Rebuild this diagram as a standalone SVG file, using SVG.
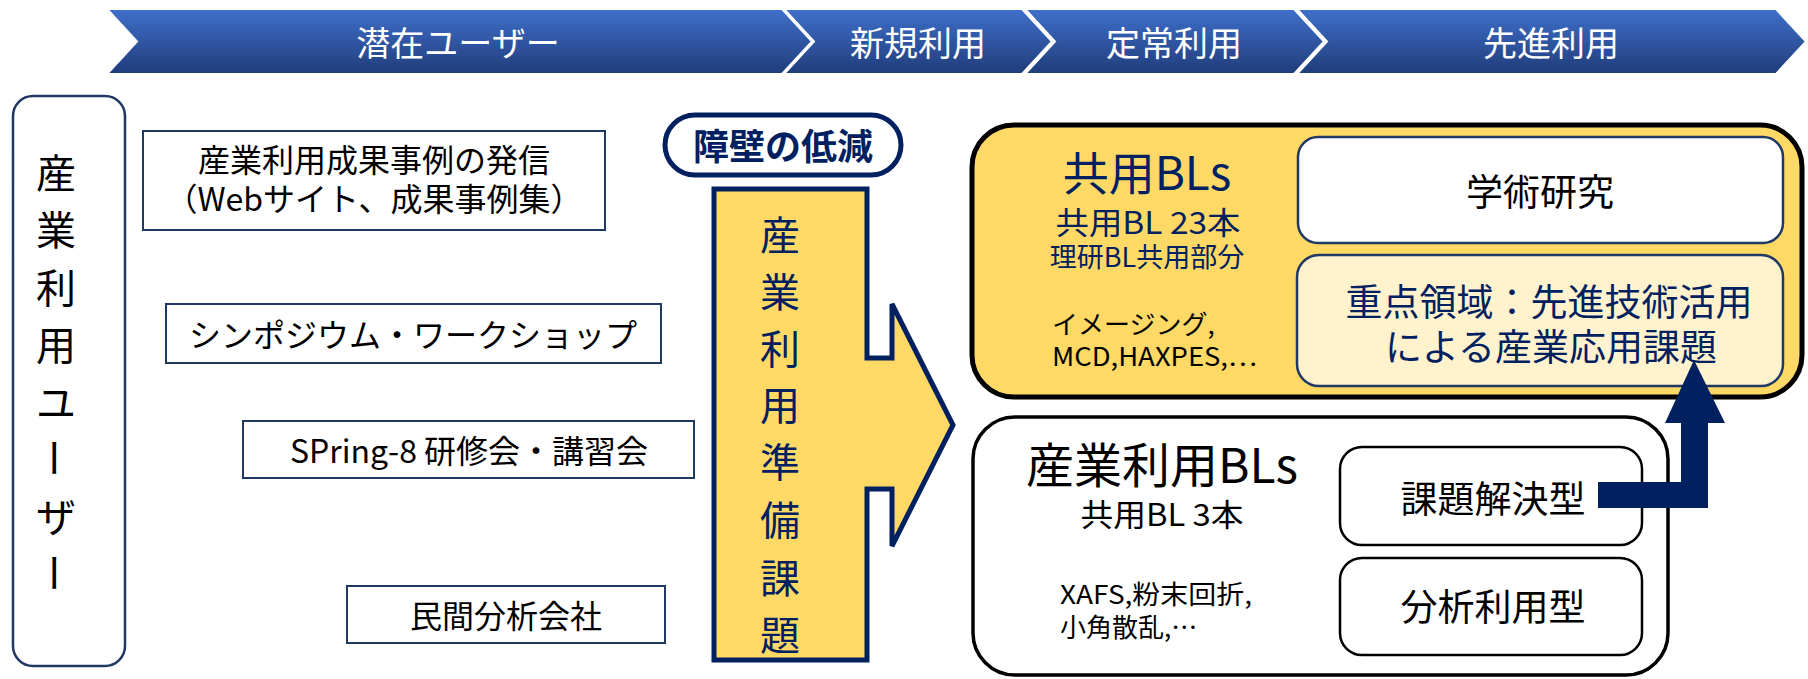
<svg xmlns="http://www.w3.org/2000/svg" width="1808" height="679" viewBox="0 0 1808 679">
<defs>
<linearGradient id="bannerGrad" x1="0" y1="0" x2="0" y2="1">
<stop offset="0" stop-color="#3F70CB"/>
<stop offset="1" stop-color="#203C7A"/>
</linearGradient>
<style>
text{font-family:"Noto Sans CJK JP","Noto Sans",sans-serif;text-anchor:middle;dominant-baseline:central}
.seg{fill:url(#bannerGrad);stroke:#ffffff;stroke-width:2}
.segt{fill:#ffffff;font-size:34px}
.lbox{fill:#ffffff;stroke:#1F3864;stroke-width:2}
.lt{fill:#000000;font-size:32px}
.navy{fill:#002060}
.blk{fill:#000000}
.st{text-anchor:start}
</style>
</defs>
<rect width="1808" height="679" fill="#ffffff"/>

<g id="banner">
<g id="seg-latent"><polygon class="seg" points="107,9 782,9 812,41.5 782,74 107,74 137,41.5"/><text class="segt" x="458" y="41.5">潜在ユーザー</text></g>
<g id="seg-new"><polygon class="seg" points="784,9 1022,9 1052,41.5 1022,74 784,74 814,41.5"/><text class="segt" x="918" y="41.5">新規利用</text></g>
<g id="seg-regular"><polygon class="seg" points="1025,9 1294,9 1324,41.5 1294,74 1025,74 1055,41.5"/><text class="segt" x="1174" y="41.5">定常利用</text></g>
<g id="seg-advanced"><polygon class="seg" points="1297,9 1776,9 1806,41.5 1776,74 1297,74 1327,41.5"/><text class="segt" x="1551" y="41.5">先進利用</text></g>
</g>

<g id="users">
<rect x="13" y="96" width="112" height="570" rx="20" fill="#ffffff" stroke="#1F3864" stroke-width="2.5"/>
<g fill="#000000">
<text x="56" y="171" font-size="40">産</text>
<text x="56" y="228" font-size="40">業</text>
<text x="56" y="286" font-size="40">利</text>
<text x="56" y="343" font-size="40">用</text>
<text x="56" y="401" font-size="40">ユ</text>
<text x="56" y="458" font-size="40" transform="rotate(90 56 458)">ー</text>
<text x="56" y="515" font-size="40">ザ</text>
<text x="56" y="573" font-size="40" transform="rotate(90 56 573)">ー</text>
</g>
</g>

<g id="box-results">
<rect class="lbox" x="143" y="131" width="462" height="99"/>
<text class="lt"><tspan x="374" y="158">産業利用成果事例の発信</tspan><tspan x="374" y="197">（Webサイト、成果事例集）</tspan></text>
</g>

<g id="box-symposium">
<rect class="lbox" x="166" y="304" width="495" height="59"/>
<text class="lt" x="413" y="333">シンポジウム・ワークショップ</text>
</g>

<g id="box-training">
<rect class="lbox" x="243" y="421" width="451" height="57"/>
<text class="lt" x="469" y="449">SPring-8 研修会・講習会</text>
</g>

<g id="box-analysis">
<rect class="lbox" x="347" y="586" width="318" height="57"/>
<text class="lt" x="506" y="614">民間分析会社</text>
</g>

<g id="pill-barrier">
<rect x="665" y="115" width="236" height="60" rx="30" fill="#ffffff" stroke="#002060" stroke-width="5"/>
<text x="783" y="144" font-size="36" font-weight="bold" fill="#002060">障壁の低減</text>
</g>

<g id="prep-arrow">
<path d="M714,189 H867 V358 H892 V304 L953,425 L892,546 V489 H867 V660 H714 Z" fill="#FFD966" stroke="#002060" stroke-width="5" stroke-linejoin="miter"/>
<g fill="#002060">
<text x="780" y="233" font-size="40">産</text>
<text x="780" y="290" font-size="40">業</text>
<text x="780" y="347" font-size="40">利</text>
<text x="780" y="403" font-size="40">用</text>
<text x="780" y="460" font-size="40">準</text>
<text x="780" y="518" font-size="40">備</text>
<text x="780" y="576" font-size="40">課</text>
<text x="780" y="633" font-size="40">題</text>
</g>
</g>

<g id="shared-bls">
<rect x="972" y="125" width="830" height="272" rx="42" fill="#FFD966" stroke="#000000" stroke-width="5"/>
<text class="navy"><tspan x="1147" y="170" font-size="46">共用BLs</tspan><tspan x="1148" y="220" font-size="31" textLength="185" lengthAdjust="spacingAndGlyphs">共用BL 23本</tspan><tspan x="1147" y="255" font-size="27">理研BL共用部分</tspan></text>
<text class="blk st" font-size="26"><tspan x="1052" y="322">イメージング,</tspan><tspan x="1052" y="354" textLength="205" lengthAdjust="spacingAndGlyphs">MCD,HAXPES,…</tspan></text>
</g>

<g id="box-academic">
<rect x="1298" y="137" width="485" height="106" rx="20" fill="#ffffff" stroke="#1F3864" stroke-width="2.5"/>
<text class="blk" x="1540" y="190" font-size="37">学術研究</text>
</g>

<g id="box-focus">
<rect x="1297" y="255" width="486" height="131" rx="22" fill="#FFF2CC" stroke="#1F3864" stroke-width="2.5"/>
<text class="navy" font-size="37"><tspan x="1549" y="300">重点領域：先進技術活用</tspan><tspan x="1551" y="345">による産業応用課題</tspan></text>
</g>

<g id="industrial-bls">
<rect x="973" y="417" width="695" height="258" rx="42" fill="#ffffff" stroke="#000000" stroke-width="3.5"/>
<text class="blk"><tspan x="1162" y="462" font-size="48">産業利用BLs</tspan><tspan x="1162" y="512" font-size="31" textLength="163" lengthAdjust="spacingAndGlyphs">共用BL 3本</tspan></text>
<text class="blk st" font-size="26"><tspan x="1060" y="592" textLength="192" lengthAdjust="spacingAndGlyphs">XAFS,粉末回折,</tspan><tspan x="1060" y="625">小角散乱,…</tspan></text>
</g>

<g id="box-solution">
<rect x="1340" y="447" width="302" height="98" rx="22" fill="#ffffff" stroke="#000000" stroke-width="2.5"/>
<text class="blk" x="1493" y="497" font-size="37">課題解決型</text>
</g>

<g id="box-analytic">
<rect x="1340" y="558" width="302" height="97" rx="22" fill="#ffffff" stroke="#000000" stroke-width="2.5"/>
<text class="blk" x="1493" y="605" font-size="37">分析利用型</text>
</g>

<g id="connectors">
<path d="M1598,482 H1681 V423 H1665 L1694,360 L1725,423 H1708 V508 H1598 Z" fill="#002060"/>
</g>
</svg>
